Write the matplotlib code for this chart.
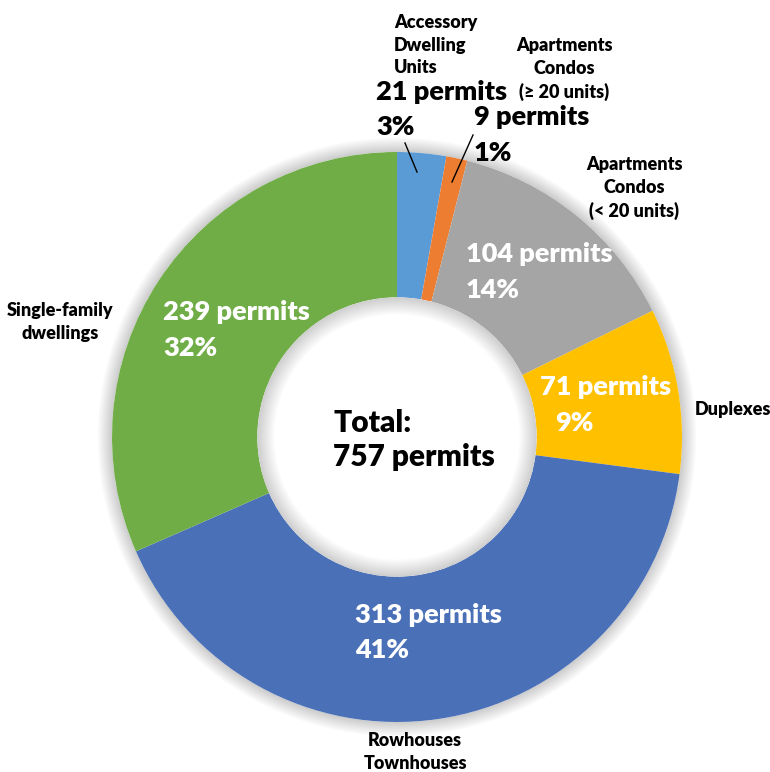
import matplotlib
import matplotlib.pyplot as plt
from matplotlib.patches import Circle, Wedge

matplotlib.use("Agg")

categories = [
    "Accessory\nDwelling\nUnits",
    "Apartments\nCondos\n(\u2265 20 units)",
    "Apartments\nCondos\n(< 20 units)",
    "Duplexes",
    "Rowhouses\nTownhouses",
    "Single-family\ndwellings",
]
permits = [21, 9, 104, 71, 313, 239]
colors = ["#5B9BD5", "#ED7D31", "#A5A5A5", "#FFC000", "#4A70B8", "#70AD47"]

total = sum(permits)

# pixel layout of the figure (770 x 772)
W, H = 770, 772
CX, CY, R = 397, 437, 285


def px(x, y):
    return (x - CX) / R, (CY - y) / R


plt.rcParams["font.family"] = ["Lato", "DejaVu Sans"]

fig = plt.figure(figsize=(W / 100, H / 100), dpi=100)
ax = fig.add_axes([0, 0, 1, 1])

hole = 0.49

# soft shadow just outside the ring
for i in range(10):
    ax.add_patch(Wedge((0, 0), 1 + 0.005 * (i + 1), 0, 360, width=0.005 * (i + 1),
                       color="#000000", alpha=0.018, lw=0, zorder=1))

wedges, _ = ax.pie(
    permits,
    colors=colors,
    startangle=90,
    counterclock=False,
    radius=1,
    wedgeprops=dict(width=1 - hole, edgecolor="none", linewidth=0),
)
for w in wedges:
    w.set_zorder(2)

# white hole with a soft inner shadow along its rim
ax.add_patch(Circle((0, 0), hole, color="white", lw=0, zorder=3))
for i in range(12):
    ax.add_patch(Wedge((0, 0), hole, 0, 360, width=0.005 * (12 - i), color="#000000",
                       alpha=0.015, lw=0, zorder=3))

ax.set_xlim(-CX / R, (W - CX) / R)
ax.set_ylim(-(H - CY) / R, CY / R)
ax.set_aspect("equal")
ax.axis("off")

# category labels (pixel centers)
cat_pos = [(394, 45, "left"), (564, 69, "center"), (634, 188, "center"),
           (733, 409, "center"), (415, 752, "center"), (60, 322, "center")]
for name, (x, y, ha) in zip(categories, cat_pos):
    ax.text(*px(x, y), name, ha=ha, va="center", fontsize=13, fontweight="heavy",
            linespacing=1.38, color="black", zorder=5)

# value labels: count line and percent line
val_pos = [(376, 92, 376, 127, "black"),
           (474, 117, 474, 153, "black"),
           (466, 254, 466, 290, "white"),
           (540, 387, 555, 423, "white"),
           (355, 615, 355, 650, "white"),
           (163, 312, 163, 348, "white")]
for n, (x1, y1, x2, y2, c) in zip(permits, val_pos):
    ax.text(*px(x1, y1), f"{n} permits", ha="left", va="center", fontsize=19.5,
            fontweight="heavy", color=c, zorder=5)
    ax.text(*px(x2, y2), f"{round(100 * n / total)}%", ha="left", va="center",
            fontsize=19.5, fontweight="heavy", color=c, zorder=5)

# leader lines for the two thin slices
ax.plot(*zip(px(405, 143), px(417, 172)), color="black", lw=1, zorder=5)
ax.plot(*zip(px(473, 135), px(452, 182)), color="black", lw=1, zorder=5)

ax.text(*px(333, 440), f"Total:\n{total} permits", ha="left", va="center", fontsize=21.5,
        fontweight="heavy", linespacing=1.3, color="black", zorder=5)

fig.savefig("out.png", dpi=100)
plt.close(fig)
